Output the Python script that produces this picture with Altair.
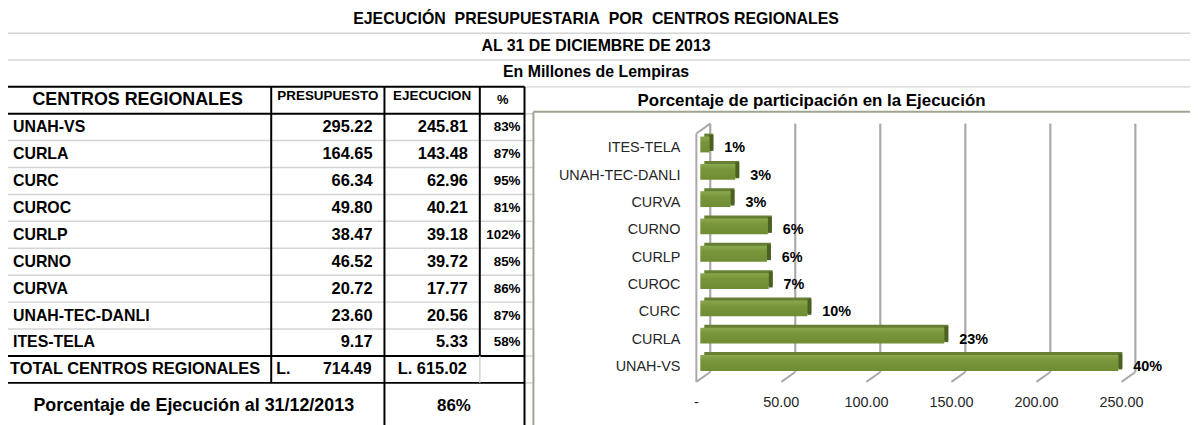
import altair as alt
import pandas as pd

# ---------------- data ----------------
TITLES = [
    "EJECUCIÓN\u00a0 PRESUPUESTARIA\u00a0 POR\u00a0 CENTROS REGIONALES",
    "AL 31 DE DICIEMBRE DE 2013",
    "En Millones de Lempiras",
]
HEADERS = ["CENTROS REGIONALES", "PRESUPUESTO", "EJECUCION", "%"]
CENTROS = ["UNAH-VS", "CURLA", "CURC", "CUROC", "CURLP", "CURNO", "CURVA",
           "UNAH-TEC-DANLI", "ITES-TELA"]
PRESUPUESTO = [295.22, 164.65, 66.34, 49.80, 38.47, 46.52, 20.72, 23.60, 9.17]
EJECUCION = [245.81, 143.48, 62.96, 40.21, 39.18, 39.72, 17.77, 20.56, 5.33]
PCT_EJECUCION = [83, 87, 95, 81, 102, 85, 86, 87, 58]
PARTICIPACION = [40, 23, 10, 7, 6, 6, 3, 3, 1]
TOTAL_LABEL = "TOTAL CENTROS REGIONALES"
TOTAL_PRESUPUESTO = 714.49
TOTAL_EJECUCION = 615.02
PCT_LABEL = "Porcentaje de Ejecución al 31/12/2013"
PCT_TOTAL = 86
CHART_TITLE = "Porcentaje de participación en la Ejecución"
X_TICKS = [0, 50, 100, 150, 200, 250]
X_TICK_LABELS = ["-", "50.00", "100.00", "150.00", "200.00", "250.00"]

# ---------------- layout helpers ----------------
M = 8  # page margin


def P(v):
    return v - M


FONT = "Liberation Sans"
BLACK = "#000000"
GRID = "#D4D4D4"

df = pd.DataFrame({
    "centro": CENTROS,
    "presupuesto": PRESUPUESTO,
    "ejecucion": EJECUCION,
    "pct": PCT_EJECUCION,
    "part": PARTICIPACION,
})
df["row"] = list(range(len(CENTROS)))
df["yc"] = df["row"] + 0.5

ROW_H = 27.1
ROW0 = 113.0
TSCALE = alt.Scale(domain=[-1, 12], range=[P(ROW0 - ROW_H), P(ROW0 + 12 * ROW_H)],
                   nice=False, zero=False)
TITLE_SCALE = alt.Scale(domain=[0, 3], range=[P(5), P(86)], nice=False, zero=False)


def TY(field):
    return alt.Y(field, scale=TSCALE, axis=None)


def TTY(field):
    return alt.Y(field, scale=TITLE_SCALE, axis=None)


def text_layer(data, text, y, x, align="left", size=15, bold=True, color=BLACK, dy=0):
    return alt.Chart(data).mark_text(
        align=align, baseline="middle", font=FONT, fontSize=size,
        fontWeight="bold" if bold else "normal", color=color, dy=dy
    ).encode(text=text, y=y, x=x)


layers = []

# ---------------- title block ----------------
tdf = pd.DataFrame({"t": TITLES, "r": [0.5, 1.5, 2.5]})
layers.append(
    alt.Chart(tdf).mark_text(align="center", baseline="middle", font=FONT, fontSize=16,
                             fontWeight="bold", color=BLACK, dy=-1)
    .encode(text="t:N", y=TTY("r:Q"), x=alt.value(P(600)))
)
layers.append(
    alt.Chart(pd.DataFrame({"b": [1, 2]})).mark_rule(color=GRID, strokeWidth=1.5)
    .encode(y=TTY("b:Q"), x=alt.value(P(6)), x2=alt.value(P(1198)))
)
layers.append(
    alt.Chart(pd.DataFrame({"b": [3]})).mark_rule(color=GRID, strokeWidth=1.5)
    .encode(y=TTY("b:Q"), x=alt.value(P(528)), x2=alt.value(P(1198)))
)
layers.append(
    alt.Chart(pd.DataFrame({"a": [0], "b": [3]})).mark_rule(color=GRID, strokeWidth=1.5)
    .encode(y=TTY("a:Q"), y2="b:Q", x=alt.value(P(6)))
)

# ---------------- table lines ----------------
n = len(CENTROS)
layers.append(
    alt.Chart(pd.DataFrame({"b": list(range(1, n))})).mark_rule(color=GRID, strokeWidth=1.5)
    .encode(y=TY("b:Q"), x=alt.value(P(6)), x2=alt.value(P(528)))
)
# spreadsheet gridline stubs between table and chart
layers.append(
    alt.Chart(pd.DataFrame({"b": list(range(0, n + 2))})).mark_rule(color=GRID, strokeWidth=1.5)
    .encode(y=TY("b:Q"), x=alt.value(P(528)), x2=alt.value(P(537)))
)
layers.append(
    alt.Chart(pd.DataFrame({"b": [-1, 0, n, n + 1]}))
    .mark_rule(color=BLACK, strokeWidth=2)
    .encode(y=TY("b:Q"), x=alt.value(P(6)), x2=alt.value(P(528)))
)
for xv, y_end in [(6, 12), (528, 12), (387, 12), (273, n + 1), (483, n)]:
    layers.append(
        alt.Chart(pd.DataFrame({"a": [-1], "b": [y_end]})).mark_rule(color=BLACK, strokeWidth=2)
        .encode(y=TY("a:Q"), y2="b:Q", x=alt.value(P(xv)))
    )
layers.append(
    alt.Chart(pd.DataFrame({"a": [n], "b": [n + 1]})).mark_rule(color=GRID, strokeWidth=1.5)
    .encode(y=TY("a:Q"), y2="b:Q", x=alt.value(P(483)))
)

# ---------------- table header ----------------
hdf = pd.DataFrame({"h": HEADERS, "r": [-0.5] * 4})
layers.append(text_layer(hdf[hdf.h == HEADERS[0]], "h:N", TY("r:Q"), alt.value(P(138.5)), "center", 18))
layers.append(text_layer(hdf[hdf.h == HEADERS[1]], "h:N", TY("r:Q"), alt.value(P(330)), "center", 13.5, dy=-4))
layers.append(text_layer(hdf[hdf.h == HEADERS[2]], "h:N", TY("r:Q"), alt.value(P(435)), "center", 13.5, dy=-4))
layers.append(text_layer(hdf[hdf.h == HEADERS[3]], "h:N", TY("r:Q"), alt.value(P(506)), "center", 13))

# ---------------- table body ----------------
layers.append(text_layer(df, "centro:N", TY("yc:Q"), alt.value(P(13)), "left", 16))
layers.append(text_layer(df, alt.Text("presupuesto:Q", format=".2f"), TY("yc:Q"), alt.value(P(375)), "right", 16.5))
layers.append(text_layer(df, alt.Text("ejecucion:Q", format=".2f"), TY("yc:Q"), alt.value(P(471)), "right", 16.5))
layers.append(
    alt.Chart(df).transform_calculate(lbl="datum.pct + '%'").mark_text(
        align="right", baseline="middle", font=FONT, fontSize=13.5, fontWeight="bold", color=BLACK
    ).encode(text="lbl:N", y=TY("yc:Q"), x=alt.value(P(524)))
)

# totals
tot = pd.DataFrame({"lab": [TOTAL_LABEL], "pres": [TOTAL_PRESUPUESTO], "ejec": [TOTAL_EJECUCION],
                    "r": [n + 0.5]})
layers.append(text_layer(tot, "lab:N", TY("r:Q"), alt.value(P(10)), "left", 16.5))
layers.append(text_layer(tot.assign(l="L."), "l:N", TY("r:Q"), alt.value(P(278)), "left", 16))
layers.append(text_layer(tot, alt.Text("pres:Q", format=".2f"), TY("r:Q"), alt.value(P(374)), "right", 16))
layers.append(
    alt.Chart(tot).transform_calculate(lbl="'L. ' + format(datum.ejec, '.2f')").mark_text(
        align="right", baseline="middle", font=FONT, fontSize=16.5, fontWeight="bold", color=BLACK
    ).encode(text="lbl:N", y=TY("r:Q"), x=alt.value(P(470)))
)
pdf = pd.DataFrame({"lab": [PCT_LABEL], "v": [PCT_TOTAL], "r": [n + 1.85]})
layers.append(text_layer(pdf, "lab:N", TY("r:Q"), alt.value(P(195)), "center", 18))
layers.append(
    alt.Chart(pdf).transform_calculate(lbl="datum.v + '%'").mark_text(
        align="center", baseline="middle", font=FONT, fontSize=17, fontWeight="bold", color=BLACK
    ).encode(text="lbl:N", y=TY("r:Q"), x=alt.value(P(457)))
)

# ---------------- bar chart ----------------
CHART_ORDER = CENTROS[::-1]
CY = alt.Y("centro:N", sort=CHART_ORDER,
           scale=alt.Scale(domain=CHART_ORDER, range=[P(134.25), P(381.75)],
                           paddingInner=0.42, paddingOuter=0.21),
           axis=None)
CX_SCALE = alt.Scale(domain=[0, 250], range=[P(701), P(1129)], nice=False, zero=True)
tick_df = pd.DataFrame({"t": X_TICKS, "lab": X_TICK_LABELS})
WALL = "#A9A9A9"

# chart border
layers.append(
    alt.Chart(pd.DataFrame({"a": [0]})).mark_rule(color="#9EA58F", strokeWidth=2)
    .encode(x=alt.value(P(537)), x2=alt.value(P(1198)), y=alt.value(P(111)))
)
layers.append(
    alt.Chart(pd.DataFrame({"a": [0]})).mark_rule(color="#9EA58F", strokeWidth=2)
    .encode(x=alt.value(P(537)), y=alt.value(P(111)), y2=alt.value(P(430)))
)
# chart title
layers.append(
    text_layer(pd.DataFrame({"t": [CHART_TITLE]}), "t:N", alt.value(P(100)), alt.value(P(817)),
               "center", 17)
)
# back-wall gridlines
layers.append(
    alt.Chart(tick_df).mark_rule(color=WALL, strokeWidth=2.2, xOffset=14)
    .encode(x=alt.X("t:Q", scale=CX_SCALE, axis=None), y=alt.value(P(123)), y2=alt.value(P(373)))
)
# floor diagonals
layers.append(
    alt.Chart(tick_df).mark_rule(color=WALL, strokeWidth=2, xOffset=14, x2Offset=0)
    .encode(x=alt.X("t:Q", scale=CX_SCALE, axis=None), x2="t:Q",
            y=alt.value(P(373)), y2=alt.value(P(383)))
)
# wall front edge and top
zero_df = tick_df[tick_df.t == X_TICKS[0]]
layers.append(
    alt.Chart(zero_df).mark_rule(color=WALL, strokeWidth=2)
    .encode(x=alt.X("t:Q", scale=CX_SCALE, axis=None), y=alt.value(P(133)), y2=alt.value(P(383)))
)
layers.append(
    alt.Chart(zero_df).mark_rule(color=WALL, strokeWidth=2, xOffset=0, x2Offset=14)
    .encode(x=alt.X("t:Q", scale=CX_SCALE, axis=None), x2="t:Q",
            y=alt.value(P(133)), y2=alt.value(P(123)))
)
# bars: top/back extrusion, side, front
layers.append(
    alt.Chart(df).mark_bar(color="#667F32", xOffset=8, x2Offset=8, yOffset=-7)
    .encode(x=alt.X("ejecucion:Q", scale=CX_SCALE, axis=None), y=CY)
)
layers.append(
    alt.Chart(df).mark_bar(color="#4B6122", xOffset=4, x2Offset=8, yOffset=-5.5)
    .encode(x=alt.X("ejecucion:Q", scale=CX_SCALE, axis=None), x2="ejecucion:Q", y=CY)
)
front_grad = alt.Gradient(
    gradient="linear",
    stops=[alt.GradientStop(color="#8AA84E", offset=0),
           alt.GradientStop(color="#789639", offset=0.35),
           alt.GradientStop(color="#6F8C34", offset=1)],
    x1=0, x2=0, y1=0, y2=1,
)
layers.append(
    alt.Chart(df).mark_bar(color=front_grad, xOffset=4, x2Offset=4, yOffset=-4)
    .encode(x=alt.X("ejecucion:Q", scale=CX_SCALE, axis=None), y=CY)
)
# category labels
layers.append(
    alt.Chart(df).mark_text(align="right", baseline="middle", font=FONT, fontSize=14.5,
                            color="#262626")
    .encode(text="centro:N", y=CY, x=alt.value(P(685)))
)
# value (share) labels
layers.append(
    alt.Chart(df).transform_calculate(lbl="datum.part + '%'").mark_text(
        align="left", baseline="middle", font=FONT, fontSize=14.5, fontWeight="bold",
        color=BLACK, dx=19)
    .encode(text="lbl:N", y=CY, x=alt.X("ejecucion:Q", scale=CX_SCALE, axis=None))
)
# x tick labels
layers.append(
    alt.Chart(tick_df).mark_text(align="center", baseline="middle", font=FONT, fontSize=14.5,
                                 color="#262626")
    .encode(text="lab:N", x=alt.X("t:Q", scale=CX_SCALE, axis=None), y=alt.value(P(404)))
)

chart = alt.layer(*layers).resolve_scale(x="independent", y="independent").properties(
    width=1190, height=417, autosize=alt.AutoSizeParams(type="none"), padding=0
).configure_view(stroke=None)

chart.save("out.html", embed_options={"renderer": "svg", "actions": False})
